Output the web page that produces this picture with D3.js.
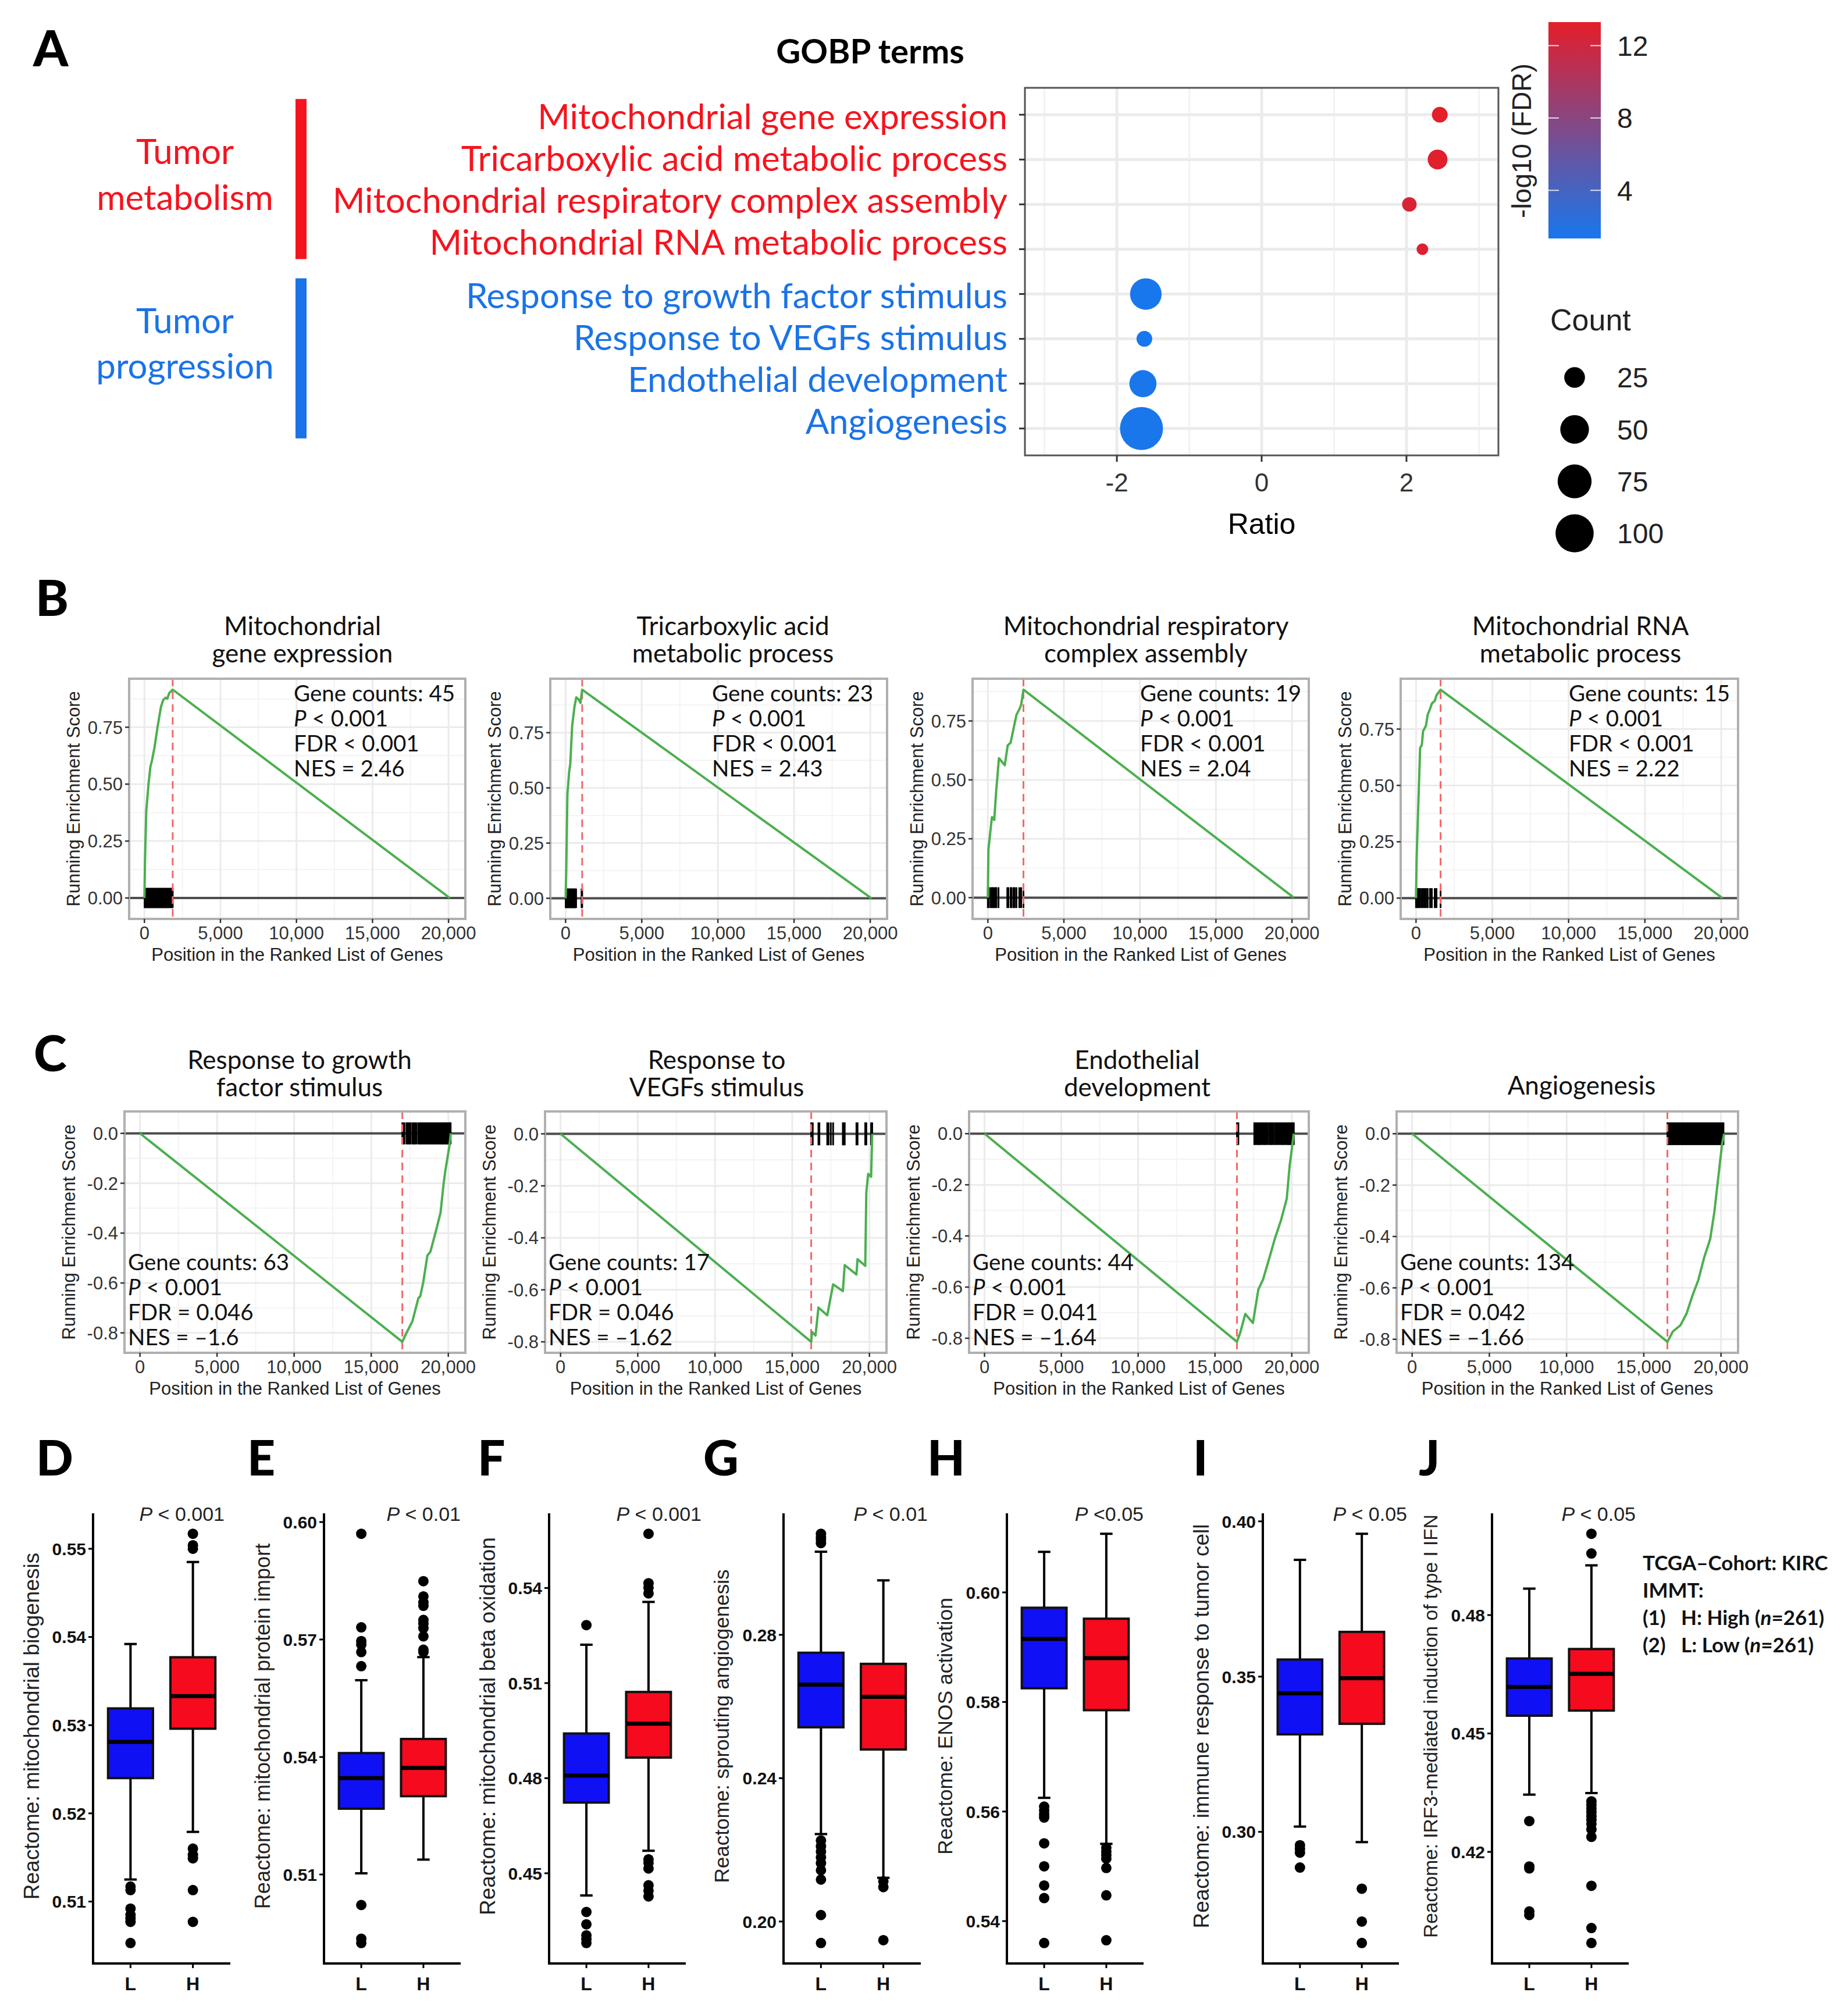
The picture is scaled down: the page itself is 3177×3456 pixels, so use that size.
<!DOCTYPE html>
<html>
<head>
<meta charset="utf-8">
<script src="https://cdn.jsdelivr.net/npm/d3@7"></script>
<style>
  body { margin: 0; background: #fff; }
</style>
</head>
<body>
<svg id="fig" width="3177" height="3456"></svg>
<script>
// ---------- panel A: GOBP dot plot ----------
var goTerms = ["Mitochondrial gene expression", "Tricarboxylic acid metabolic process",
    "Mitochondrial respiratory complex assembly", "Mitochondrial RNA metabolic process",
    "Response to growth factor stimulus", "Response to VEGFs stimulus",
    "Endothelial development", "Angiogenesis"];
var goGroup = [0, 0, 0, 0, 1, 1, 1, 1];
var goRatio = [2.46, 2.43, 2.04, 2.22, -1.60, -1.62, -1.64, -1.66];
var goCount = [17, 23, 16, 15, 63, 17, 44, 134];
var goLogFdr = [13.3, 13.1, 12.6, 12.9, 1.34, 1.34, 1.39, 1.38];
var groupNames = [["Tumor", "metabolism"], ["Tumor", "progression"]];
var ratioTicks = [-2, 0, 2];
var ratioLimits = [-3.27, 3.27];
var fdrTicks = [4, 8, 12];
var countTicks = [25, 50, 75, 100];

// ---------- panels B, C: GSEA running scores ----------
var gseaTitles = [["Mitochondrial", "gene expression"], ["Tricarboxylic acid", "metabolic process"],
    ["Mitochondrial respiratory", "complex assembly"], ["Mitochondrial RNA", "metabolic process"],
    ["Response to growth", "factor stimulus"], ["Response to", "VEGFs stimulus"],
    ["Endothelial", "development"], ["Angiogenesis"]];
var gseaCount = [45, 23, 19, 15, 63, 17, 44, 134];
var gseaFdr = ["< 0.001", "< 0.001", "< 0.001", "< 0.001", "= 0.046", "= 0.046", "= 0.041", "= 0.042"];
var gseaNes = ["2.46", "2.43", "2.04", "2.22", "\u20131.6", "\u20131.62", "\u20131.64", "\u20131.66"];
var gseaPeak = [1860, 1090, 2342, 1609, 17016, 16230, 16430, 16530];
var rankedTotal = 20100;
var gseaCurves = [
    [[0,0],[40,0.17],[120,0.38],[270,0.50],[390,0.575],[500,0.605],[660,0.66],[850,0.745],[1090,0.84],[1240,0.87],[1400,0.88],[1510,0.875],[1630,0.90],[1860,0.915],[20080,0]],
    [[0,0],[40,0.11],[120,0.47],[230,0.57],[310,0.61],[430,0.78],[590,0.87],[700,0.91],[860,0.90],[980,0.885],[1090,0.945],[20080,0]],
    [[0,0],[38,0.206],[269,0.342],[422,0.33],[537,0.443],[729,0.592],[1113,0.562],[1305,0.646],[1497,0.658],[1689,0.717],[1881,0.776],[2073,0.80],[2188,0.818],[2342,0.883],[20120,0]],
    [[0,0],[38,0.17],[77,0.26],[153,0.42],[268,0.666],[383,0.68],[460,0.74],[651,0.765],[766,0.814],[920,0.84],[1034,0.863],[1226,0.875],[1341,0.90],[1609,0.925],[20080,0]],
    [[0,0],[17016,-0.836],[17287,-0.80],[17674,-0.753],[18062,-0.66],[18178,-0.654],[18372,-0.598],[18643,-0.49],[18837,-0.475],[19031,-0.43],[19225,-0.385],[19496,-0.318],[19690,-0.205],[19806,-0.15],[20078,-0.048],[20160,0]],
    [[0,0],[16230,-0.80],[16280,-0.762],[16510,-0.776],[16700,-0.668],[17270,-0.698],[17650,-0.579],[18280,-0.605],[18400,-0.505],[19160,-0.541],[19230,-0.482],[19730,-0.508],[19800,-0.225],[19920,-0.154],[20110,-0.165],[20180,0]],
    [[0,0],[16430,-0.814],[16660,-0.775],[16970,-0.705],[17470,-0.74],[17820,-0.61],[18130,-0.57],[18520,-0.49],[18900,-0.41],[19290,-0.34],[19670,-0.255],[19860,-0.125],[20130,0]],
    [[0,0],[16530,-0.81],[16880,-0.77],[17380,-0.745],[17770,-0.70],[18150,-0.63],[18530,-0.57],[18920,-0.48],[19300,-0.41],[19570,-0.305],[19880,-0.14],[20070,-0.04],[20200,0]]
];
var gseaHits = [
    [15,55,90,130,175,210,255,300,335,380,420,460,505,540,590,630,665,710,755,790,840,880,915,960,1005,1040,1090,1130,1170,1210,1255,1300,1340,1380,1425,1470,1510,1550,1600,1640,1690,1735,1780,1820,1860],
    [10,40,75,110,140,175,210,245,275,310,340,375,410,440,480,510,545,580,615,650,690,1050,1090],
    [0,60,180,270,330,420,500,560,700,1280,1350,1500,1560,1690,1760,1880,2070,2190,2340],
    [0,77,150,200,268,380,460,560,650,766,920,1034,1226,1341,1609],
    [17016,17080,17150,17290,17360,17430,17500,17560,17680,17740,17800,17870,17940,18060,18120,18180,18240,18300,18370,18440,18500,18560,18640,18700,18760,18840,18900,18960,19030,19100,19160,19230,19300,19360,19430,19500,19560,19620,19690,19750,19810,19870,19930,19990,20040,20080,20120,20150],
    [16230,16330,16700,16760,17270,17350,17500,17650,18280,18330,18400,19160,19230,19730,19800,20110,20180],
    [16430,16470,16520,17560,17620,17700,17780,17820,17900,17960,18030,18130,18200,18260,18340,18420,18520,18580,18650,18720,18800,18900,18960,19040,19120,19200,19290,19350,19430,19500,19580,19670,19740,19800,19860,19920,19980,20030,20080,20130],
    [16530,16590,16650,16720,16780,16850,16910,16980,17040,17110,17170,17240,17300,17370,17430,17500,17560,17630,17690,17760,17820,17890,17950,18020,18080,18150,18210,18280,18340,18410,18470,18540,18600,18670,18730,18800,18860,18930,18990,19060,19120,19190,19250,19320,19380,19450,19510,19580,19640,19710,19770,19840,19900,19970,20030,20100,20160]
];
var hitHalf = 0.044;

// ---------- panels D-J: Reactome box plots ----------
var boxLetters = ["D", "E", "F", "G", "H", "I", "J"];
var boxLabels = ["Reactome: mitochondrial biogenesis", "Reactome: mitochondrial protein import",
    "Reactome: mitochondrial beta oxidation", "Reactome: sprouting angiogenesis",
    "Reactome: ENOS activation", "Reactome: immune response to tumor cell",
    "Reactome: IRF3-mediated induction of type I IFN"];
var boxP = [" < 0.001", " < 0.01", " < 0.001", " < 0.01", " <0.05", " < 0.05", " < 0.05"];
var boxGroups = ["L", "H"];
var boxTicks = [[0.51, 0.52, 0.53, 0.54, 0.55], [0.51, 0.54, 0.57, 0.60], [0.45, 0.48, 0.51, 0.54],
    [0.20, 0.24, 0.28], [0.54, 0.56, 0.58, 0.60], [0.30, 0.35, 0.40], [0.42, 0.45, 0.48]];
// [lower whisker, q1, median, q3, upper whisker]
var lowStats = [[0.5125, 0.5240, 0.5281, 0.5319, 0.5392], [0.5103, 0.5268, 0.5346, 0.5410, 0.5596],
    [0.4430, 0.4723, 0.4808, 0.4941, 0.5221], [0.2244, 0.2542, 0.2661, 0.2750, 0.3032],
    [0.5625, 0.5825, 0.5915, 0.5972, 0.6074], [0.3017, 0.3314, 0.3446, 0.3555, 0.3876],
    [0.4345, 0.4545, 0.4618, 0.4690, 0.4867]];
var highStats = [[0.5179, 0.5296, 0.5333, 0.5377, 0.5485], [0.5138, 0.5300, 0.5372, 0.5446, 0.5655],
    [0.4571, 0.4865, 0.4972, 0.5072, 0.5356], [0.2122, 0.2480, 0.2627, 0.2719, 0.2952],
    [0.5541, 0.5785, 0.5880, 0.5952, 0.6107], [0.2967, 0.3348, 0.3495, 0.3644, 0.3960],
    [0.4349, 0.4558, 0.4651, 0.4714, 0.4926]];
var lowOut = [[0.5117, 0.5113, 0.5092, 0.5085, 0.5081, 0.5077, 0.5053],
    [0.5970, 0.5731, 0.5696, 0.5687, 0.5668, 0.5632, 0.5022, 0.4936, 0.4925],
    [0.5283, 0.4378, 0.4339, 0.4304, 0.4292, 0.4280],
    [0.3082, 0.3073, 0.3066, 0.3056, 0.2226, 0.2210, 0.2195, 0.2179, 0.2163, 0.2143, 0.2117, 0.2018, 0.1940],
    [0.5609, 0.5602, 0.5595, 0.5589, 0.5542, 0.5500, 0.5465, 0.5442, 0.5360],
    [0.2957, 0.2945, 0.2933, 0.2885],
    [0.4278, 0.4163, 0.4158, 0.4049, 0.4040]];
var highOut = [[0.5517, 0.5504, 0.5500, 0.5160, 0.5153, 0.5149, 0.5113, 0.5077],
    [0.5849, 0.5810, 0.5795, 0.5786, 0.5750, 0.5741, 0.5729, 0.5708, 0.5674, 0.5668],
    [0.5571, 0.5415, 0.5401, 0.5383, 0.4544, 0.4533, 0.4515, 0.4462, 0.4445, 0.4427],
    [0.2112, 0.2096, 0.1948],
    [0.5534, 0.5527, 0.5520, 0.5514, 0.5497, 0.5447, 0.5365],
    [0.2817, 0.2711, 0.2642],
    [0.5006, 0.4956, 0.4328, 0.4319, 0.4309, 0.4300, 0.4290, 0.4281, 0.4271, 0.4257, 0.4238, 0.4114, 0.4007, 0.3969]];
var cohortLines = ["TCGA\u2013Cohort: KIRC", "IMMT:", "(1)|H: High (|n|=261)", "(2)|L: Low (|n|=261)"];

var svg = d3.select("#fig");
var SANS = "'Liberation Sans', Arial, sans-serif";
var CAL = "Lato, 'Open Sans', sans-serif";
var RED = "#f5141e", BLUE = "#1a73e8";

function txt(g, x, y, s, o) {
    o = o || {};
    var t = g.append("text").attr("x", x).attr("y", y)
        .attr("text-anchor", o.anchor || "start")
        .style("font-family", o.font || SANS)
        .style("font-size", (o.size || 30) + "px")
        .style("font-weight", o.weight || "normal")
        .style("fill", o.fill || "#000");
    if (o.dy) t.attr("dy", o.dy);
    if (o.rotate) t.attr("transform", "rotate(" + o.rotate + "," + x + "," + y + ")");
    if (Array.isArray(s)) {
        s.forEach(function (p) {
            t.append("tspan").style("font-style", p[1] ? "italic" : "normal").text(p[0]);
        });
    } else t.text(s);
    return t;
}
function padded(ext, f) {
    var r = (ext[1] - ext[0]) * (f || 0.05);
    return [ext[0] - r, ext[1] + r];
}
function hyph(v) { return String(v).replace("\u2212", "-"); }

// ================= A =================
(function () {
    var g = svg.append("g");
    var x0 = 1762, x1 = 2576, y0 = 151, y1 = 783;
    txt(g, 57, 114, "A", {font: CAL, size: 86, weight: 900});
    txt(g, 1496, 109, "GOBP terms", {font: CAL, size: 58, weight: 700, anchor: "middle"});

    var x = d3.scaleLinear().domain(ratioLimits).range([x0, x1]);
    var y = d3.scalePoint().domain(goTerms).range([y0, y1]).padding(0.6);
    var col = d3.scaleLinear().domain(d3.extent(goLogFdr)).range(["#1877ec", "#e41e2a"]);
    var cext = d3.extent(goCount);
    var rs = d3.scaleSqrt().domain([0, cext[1] - cext[0]]).range([10, 37]);
    function rad(c) { return rs(c - cext[0]); }

    // grid
    d3.range(-3, 4).forEach(function (v) {
        g.append("line").attr("x1", x(v)).attr("x2", x(v)).attr("y1", y0).attr("y2", y1)
            .attr("stroke", v % 2 === 0 ? "#ebebeb" : "#f2f2f2").attr("stroke-width", v % 2 === 0 ? 5 : 3);
    });
    goTerms.forEach(function (t) {
        g.append("line").attr("x1", x0).attr("x2", x1).attr("y1", y(t)).attr("y2", y(t))
            .attr("stroke", "#ebebeb").attr("stroke-width", 5);
    });
    g.selectAll("circle.dot").data(goTerms).enter().append("circle")
        .attr("cx", function (d, i) { return x(goRatio[i]); })
        .attr("cy", function (d) { return y(d); })
        .attr("r", function (d, i) { return rad(goCount[i]); })
        .attr("fill", function (d, i) { return col(goLogFdr[i]); });
    g.append("rect").attr("x", x0).attr("y", y0).attr("width", x1 - x0).attr("height", y1 - y0)
        .attr("fill", "none").attr("stroke", "#555").attr("stroke-width", 3);

    // y ticks; the coloured term labels sit slightly tighter than the rows, grouped
    var groupMid = [0, 1].map(function (k) {
        var rows = goTerms.filter(function (d, i) { return goGroup[i] === k; });
        return (y(rows[0]) + y(rows[rows.length - 1])) / 2;
    });
    goTerms.forEach(function (t, i) {
        g.append("line").attr("x1", x0 - 10).attr("x2", x0).attr("y1", y(t)).attr("y2", y(t))
            .attr("stroke", "#333").attr("stroke-width", 3);
        var m = groupMid[goGroup[i]];
        var ly = m - 4 + (y(t) - m) * 0.935;
        txt(g, x0 - 30, ly, t, {font: CAL, size: 60, anchor: "end", dy: "0.35em", fill: goGroup[i] ? BLUE : RED});
    });
    // group bars and labels
    var groupLabelY = [[282, 361], [573, 651]];
    [0, 1].forEach(function (k) {
        var rows = goTerms.filter(function (d, i) { return goGroup[i] === k; });
        var ya = y(rows[0]) - 27, yb = y(rows[rows.length - 1]) + 17;
        var c = k ? BLUE : RED;
        g.append("rect").attr("x", 508).attr("y", ya).attr("width", 19).attr("height", yb - ya).attr("fill", c);
        txt(g, 318, groupLabelY[k][0], groupNames[k][0], {font: CAL, size: 60, anchor: "middle", fill: c});
        txt(g, 318, groupLabelY[k][1], groupNames[k][1], {font: CAL, size: 60, anchor: "middle", fill: c});
    });
    // x axis
    ratioTicks.forEach(function (v) {
        g.append("line").attr("x1", x(v)).attr("x2", x(v)).attr("y1", y1).attr("y2", y1 + 11)
            .attr("stroke", "#333").attr("stroke-width", 3);
        txt(g, x(v), 845, hyph(v), {size: 44, anchor: "middle", fill: "#333"});
    });
    txt(g, (x0 + x1) / 2, 918, "Ratio", {size: 50, anchor: "middle"});

    // colour bar
    var cb = {x: 2662, w: 90, top: 38, bot: 410};
    var fy = d3.scaleLinear().domain(d3.extent(goLogFdr)).range([cb.bot, cb.top]);
    var grad = svg.append("defs").append("linearGradient").attr("id", "fdrgrad")
        .attr("x1", 0).attr("x2", 0).attr("y1", 1).attr("y2", 0);
    [0, 0.25, 0.5, 0.75, 1].forEach(function (p) {
        var v = fy.domain()[0] + p * (fy.domain()[1] - fy.domain()[0]);
        grad.append("stop").attr("offset", p).attr("stop-color", col(v));
    });
    g.append("rect").attr("x", cb.x).attr("y", cb.top).attr("width", cb.w).attr("height", cb.bot - cb.top)
        .attr("fill", "url(#fdrgrad)");
    fdrTicks.forEach(function (v) {
        [[cb.x, cb.x + 18], [cb.x + cb.w - 18, cb.x + cb.w]].forEach(function (s) {
            g.append("line").attr("x1", s[0]).attr("x2", s[1]).attr("y1", fy(v)).attr("y2", fy(v))
                .attr("stroke", "#fff").attr("stroke-opacity", 0.8).attr("stroke-width", 2);
        });
        txt(g, 2780, fy(v), String(v), {size: 48, dy: "0.36em", fill: "#222"});
    });
    txt(g, 2616, 242, "-log10 (FDR)", {size: 46, anchor: "middle", dy: "0.35em", rotate: -90, fill: "#222"});

    // count legend
    txt(g, 2665, 568, "Count", {size: 52, fill: "#222"});
    var ky = d3.scalePoint().domain(countTicks).range([649, 917]);
    countTicks.forEach(function (c) {
        g.append("circle").attr("cx", 2707).attr("cy", ky(c)).attr("r", rad(c)).attr("fill", "#000");
        txt(g, 2780, ky(c), String(c), {size: 48, dy: "0.36em", fill: "#222"});
    });
})();

// ================= B, C =================
var gseaBoxes = [
    {x0: 222, x1: 800, y0: 1167, y1: 1580}, {x0: 946, x1: 1525, y0: 1167, y1: 1580},
    {x0: 1672, x1: 2250, y0: 1167, y1: 1580}, {x0: 2408, x1: 2988, y0: 1167, y1: 1580},
    {x0: 214, x1: 800, y0: 1911, y1: 2326}, {x0: 937, x1: 1524, y0: 1911, y1: 2326},
    {x0: 1666, x1: 2250, y0: 1911, y1: 2326}, {x0: 2401, x1: 2988, y0: 1911, y1: 2326}
];
var titleCenters = [520, 1260, 1970, 2717, 515, 1232, 1955, 2719];
txt(svg, 61, 1059, "B", {font: CAL, size: 86, weight: 900});
txt(svg, 58, 1842, "C", {font: CAL, size: 86, weight: 900});

gseaCurves.forEach(function (curve, k) {
    var b = gseaBoxes[k], g = svg.append("g");
    var pos = k >= 4;
    var x = d3.scaleLinear().domain(padded([0, rankedTotal])).range([b.x0, b.x1]);
    var yext = d3.extent(curve.map(function (d) { return d[1]; }).concat([hitHalf, -hitHalf]));
    var y = d3.scaleLinear().domain(padded(yext)).range([b.y1, b.y0]);
    var step = pos ? 0.2 : 0.25;
    var yTicks = pos ? [0, -0.2, -0.4, -0.6, -0.8] : [0, 0.25, 0.5, 0.75];
    var xTicks = [0, 5000, 10000, 15000, 20000];
    var dom = y.domain();
    var clipId = "clip" + k;
    svg.append("clipPath").attr("id", clipId).append("rect")
        .attr("x", b.x0).attr("y", b.y0).attr("width", b.x1 - b.x0).attr("height", b.y1 - b.y0);
    var p = g.append("g").attr("clip-path", "url(#" + clipId + ")");
    p.append("rect").attr("x", b.x0).attr("y", b.y0).attr("width", b.x1 - b.x0).attr("height", b.y1 - b.y0).attr("fill", "#fff");

    // minor then major grid
    var yMinor = yTicks.map(function (v) { return v + step / 2; }).concat([yTicks[0] - step / 2, yTicks[yTicks.length - 1] - step / 2]);
    yMinor.filter(function (v) { return v > dom[0] && v < dom[1]; }).forEach(function (v) {
        p.append("line").attr("x1", b.x0).attr("x2", b.x1).attr("y1", y(v)).attr("y2", y(v))
            .attr("stroke", "#f4f4f4").attr("stroke-width", 2);
    });
    [2500, 7500, 12500, 17500].forEach(function (v) {
        p.append("line").attr("x1", x(v)).attr("x2", x(v)).attr("y1", b.y0).attr("y2", b.y1)
            .attr("stroke", "#f4f4f4").attr("stroke-width", 2);
    });
    yTicks.forEach(function (v) {
        p.append("line").attr("x1", b.x0).attr("x2", b.x1).attr("y1", y(v)).attr("y2", y(v))
            .attr("stroke", "#ebebeb").attr("stroke-width", 3);
    });
    xTicks.forEach(function (v) {
        p.append("line").attr("x1", x(v)).attr("x2", x(v)).attr("y1", b.y0).attr("y2", b.y1)
            .attr("stroke", "#ebebeb").attr("stroke-width", 3);
    });
    // zero line and gene hits
    p.append("line").attr("x1", b.x0).attr("x2", b.x1).attr("y1", y(0)).attr("y2", y(0))
        .attr("stroke", "#4d4d4d").attr("stroke-width", 4);
    p.selectAll("line.hit").data(gseaHits[k]).enter().append("line")
        .attr("x1", function (d) { return x(d); }).attr("x2", function (d) { return x(d); })
        .attr("y1", y(hitHalf)).attr("y2", y(-hitHalf))
        .attr("stroke", "#000").attr("stroke-width", 3);
    p.append("line").attr("x1", x(gseaPeak[k])).attr("x2", x(gseaPeak[k])).attr("y1", b.y0).attr("y2", b.y1)
        .attr("stroke", "#f26a6a").attr("stroke-width", 3).attr("stroke-dasharray", "13,9");
    p.append("path").datum(curve)
        .attr("d", d3.line().x(function (d) { return x(d[0]); }).y(function (d) { return y(d[1]); }))
        .attr("fill", "none").attr("stroke", "#4caf50").attr("stroke-width", 4).attr("stroke-linejoin", "round");
    g.append("rect").attr("x", b.x0).attr("y", b.y0).attr("width", b.x1 - b.x0).attr("height", b.y1 - b.y0)
        .attr("fill", "none").attr("stroke", "#b0b0b0").attr("stroke-width", 4);

    // axes
    var fmtY = pos ? d3.format(".1f") : d3.format(".2f");
    yTicks.forEach(function (v) {
        g.append("line").attr("x1", b.x0 - 7).attr("x2", b.x0).attr("y1", y(v)).attr("y2", y(v))
            .attr("stroke", "#333").attr("stroke-width", 2.5);
        txt(g, b.x0 - 11, y(v), hyph(fmtY(v)), {size: 31, anchor: "end", dy: "0.36em", fill: "#333"});
    });
    xTicks.forEach(function (v) {
        g.append("line").attr("x1", x(v)).attr("x2", x(v)).attr("y1", b.y1).attr("y2", b.y1 + 7)
            .attr("stroke", "#333").attr("stroke-width", 2.5);
        txt(g, x(v), b.y1 + 35, d3.format(",")(v), {size: 31, anchor: "middle", fill: "#333"});
    });
    txt(g, (b.x0 + b.x1) / 2, b.y1 + 72, "Position in the Ranked List of Genes", {size: 31, anchor: "middle", fill: "#222"});
    txt(g, b.x0 - 96, (b.y0 + b.y1) / 2, "Running Enrichment Score", {size: 31, anchor: "middle", dy: "0.35em", rotate: -90, fill: "#222"});

    // title
    var tl = gseaTitles[k];
    var base = pos ? 1885 : 1139;
    tl.forEach(function (line, j) {
        txt(g, titleCenters[k], base - (tl.length - 1 - j) * 47 - (tl.length === 1 ? 3 : 0), line,
            {font: CAL, size: 44, anchor: "middle", fill: "#111"});
    });

    // statistics
    var sx = pos ? b.x0 + 6 : [505, 1224, 1960, 2697][k];
    var sy = pos ? 2184 : 1206;
    var lines = ["Gene counts: " + gseaCount[k], [["P", 1], [" < 0.001", 0]], "FDR " + gseaFdr[k], "NES = " + gseaNes[k]];
    lines.forEach(function (s, j) {
        txt(g, sx, sy + j * 43, s, {font: CAL, size: 38.5, fill: "#111"});
    });
});

// ================= D - J =================
var boxAxes = [[160, 396], [557, 792], [944, 1179], [1347, 1583], [1731, 1966], [2171, 2405], [2565, 2800]];
var letterX = [62, 425, 821, 1209, 1594, 2051, 2439];
var pRight = [386, 792, 1206, 1595, 1966, 2419, 2812];
var labelSize = [37, 36, 37, 35, 35.5, 37, 33.5];
var yTop = 2602, yBot = 3376;

boxLabels.forEach(function (lab, k) {
    var g = svg.append("g");
    var ax = boxAxes[k];
    var allv = lowStats[k].concat(highStats[k], lowOut[k], highOut[k]);
    var y = d3.scaleLinear().domain(padded(d3.extent(allv))).range([yBot, yTop]);
    var x = d3.scalePoint().domain(boxGroups).range(ax).padding(0.6);
    var stepW = x.step();
    var bw = 0.72 * stepW, cw = 0.2 * stepW;

    txt(g, letterX[k], 2537, boxLetters[k], {font: CAL, size: 84, weight: 900});

    [lowStats[k], highStats[k]].forEach(function (st, gi) {
        var cx = x(boxGroups[gi]);
        var fill = gi ? "#f50a1e" : "#1010f5";
        var outs = gi ? highOut[k] : lowOut[k];
        g.append("line").attr("x1", cx).attr("x2", cx).attr("y1", y(st[0])).attr("y2", y(st[4]))
            .attr("stroke", "#000").attr("stroke-width", 4);
        [st[0], st[4]].forEach(function (v) {
            g.append("line").attr("x1", cx - cw / 2).attr("x2", cx + cw / 2).attr("y1", y(v)).attr("y2", y(v))
                .attr("stroke", "#000").attr("stroke-width", 4);
        });
        g.append("rect").attr("x", cx - bw / 2).attr("y", y(st[3])).attr("width", bw)
            .attr("height", y(st[1]) - y(st[3])).attr("fill", fill).attr("stroke", "#111").attr("stroke-width", 4);
        g.append("line").attr("x1", cx - bw / 2).attr("x2", cx + bw / 2).attr("y1", y(st[2])).attr("y2", y(st[2]))
            .attr("stroke", "#000").attr("stroke-width", 7);
        g.selectAll(null).data(outs).enter().append("circle")
            .attr("cx", cx).attr("cy", function (d) { return y(d); }).attr("r", 9).attr("fill", "#000");
    });

    // axes
    g.append("line").attr("x1", ax[0]).attr("x2", ax[0]).attr("y1", yTop).attr("y2", yBot)
        .attr("stroke", "#000").attr("stroke-width", 4);
    g.append("line").attr("x1", ax[0] - 2).attr("x2", ax[1]).attr("y1", yBot).attr("y2", yBot)
        .attr("stroke", "#000").attr("stroke-width", 4);
    boxTicks[k].forEach(function (v) {
        g.append("line").attr("x1", ax[0] - 8).attr("x2", ax[0]).attr("y1", y(v)).attr("y2", y(v))
            .attr("stroke", "#000").attr("stroke-width", 3);
        txt(g, ax[0] - 12, y(v), d3.format(".2f")(v), {size: 30, weight: 700, anchor: "end", dy: "0.36em", fill: "#111"});
    });
    boxGroups.forEach(function (gname) {
        g.append("line").attr("x1", x(gname)).attr("x2", x(gname)).attr("y1", yBot).attr("y2", yBot + 8)
            .attr("stroke", "#000").attr("stroke-width", 3);
        txt(g, x(gname), 3422, gname, {size: 32, weight: 700, anchor: "middle", fill: "#111"});
    });
    txt(g, ax[0] - 106, 2968, lab, {size: labelSize[k], anchor: "middle", dy: "0.35em", rotate: -90, fill: "#222"});
    txt(g, pRight[k], 2615, [["P", 1], [boxP[k], 0]], {size: 34, anchor: "end", fill: "#222"});
});

// cohort legend
(function () {
    var g = svg.append("g");
    cohortLines.forEach(function (line, j) {
        var yy = 2700 + j * 47;
        var parts = line.split("|");
        if (parts.length === 1) {
            txt(g, 2824, yy, line, {font: CAL, size: 35, weight: 700, fill: "#111"});
        } else {
            txt(g, 2824, yy, parts[0], {font: CAL, size: 35, weight: 700, fill: "#111"});
            txt(g, 2890, yy, [[parts[1], 0], [parts[2], 1], [parts[3], 0]], {font: CAL, size: 35, weight: 700, fill: "#111"});
        }
    });
})();
</script>
</body>
</html>
